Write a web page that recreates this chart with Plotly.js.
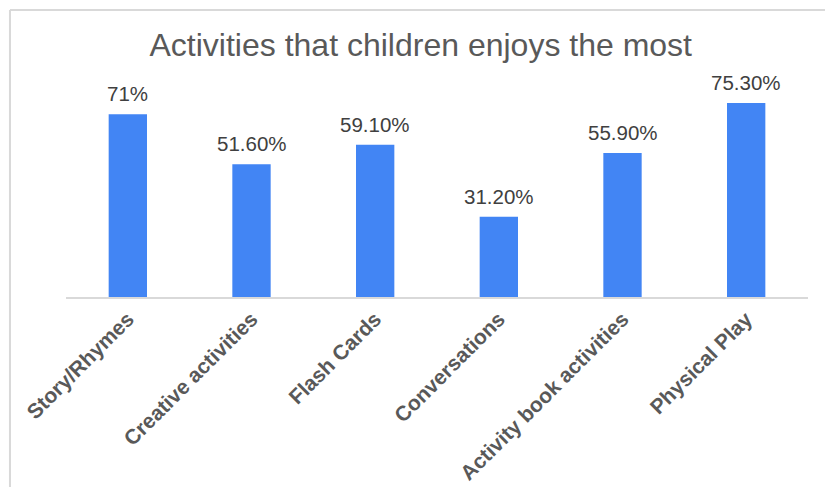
<!DOCTYPE html>
<html>
<head>
<meta charset="utf-8">
<script src="https://cdn.plot.ly/plotly-3.0.1.min.js"></script>
<style>html,body{margin:0;padding:0;background:#fff;}#chart{width:825px;height:487px;}</style>
</head>
<body>
<div id="chart"></div>
<script>
const categories = ["Story/Rhymes", "Creative activities", "Flash Cards", "Conversations", "Activity book activities", "Physical Play"];
const values = [71, 51.6, 59.1, 31.2, 55.9, 75.3];
const valueLabels = ["71%", "51.60%", "59.10%", "31.20%", "55.90%", "75.30%"];

const font = "Liberation Sans, Arial, sans-serif";
const trace = {
  type: "bar",
  x: categories,
  y: values,
  marker: {color: "#4285F4"},
  hoverinfo: "skip"
};
const annotations = categories.map((c, i) => ({
  x: c, y: values[i], xref: "x", yref: "y",
  text: valueLabels[i], showarrow: false,
  yanchor: "bottom", yshift: 7,
  font: {family: font, size: 20.5, color: "#404040"}
}));
const layout = {
  width: 825, height: 487,
  margin: {l: 66, r: 17, t: 91, b: 190},
  paper_bgcolor: "#ffffff", plot_bgcolor: "#ffffff",
  showlegend: false,
  bargap: 0.69,
  title: {
    text: "Activities that children enjoys the most",
    x: 0.51, xref: "container", xanchor: "center",
    y: 0.909, yref: "container", yanchor: "middle",
    font: {family: font, size: 32, color: "#595959"}
  },
  xaxis: {
    type: "category",
    showline: true, linecolor: "#d9d9d9", linewidth: 1.5,
    showgrid: false, ticks: "",
    tickangle: -45,
    tickfont: {family: font, size: 21, color: "#595959", weight: "bold"}
  },
  yaxis: {
    range: [0, 80], visible: false, showgrid: false, zeroline: false
  },
  annotations: annotations,
  shapes: [
    {type: "line", xref: "paper", yref: "paper", x0: -0.0755, x1: 1.05, y0: 1.393, y1: 1.393, line: {color: "#d9d9d9", width: 2}},
    {type: "line", xref: "paper", yref: "paper", x0: -0.0755, x1: -0.0755, y0: 1.393, y1: -1, line: {color: "#d9d9d9", width: 2}}
  ]
};
Plotly.newPlot("chart", [trace], layout, {displayModeBar: false, staticPlot: true});
</script>
</body>
</html>
